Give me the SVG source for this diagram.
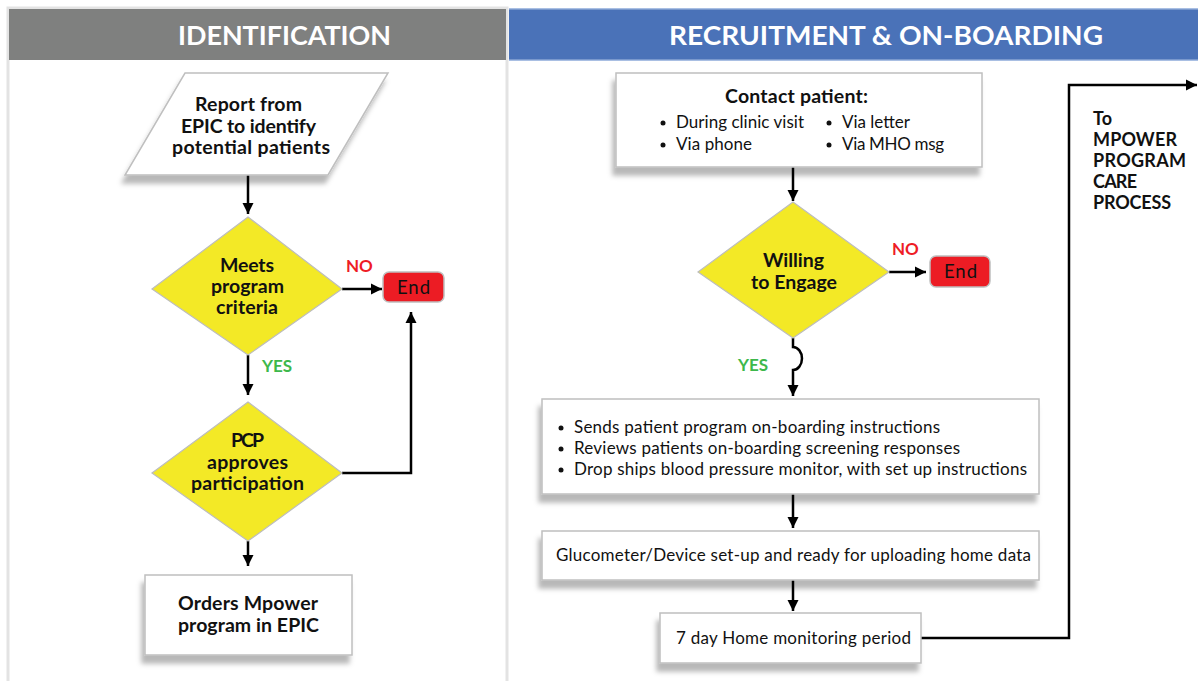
<svg xmlns="http://www.w3.org/2000/svg" width="1198" height="681" viewBox="0 0 1198 681">
<style>
.t{font-family:Lato,"Open Sans","Liberation Sans",sans-serif;fill:#111}
.b{font-weight:bold;font-size:19.5px}
.m{font-weight:bold;font-size:18px}
.r{font-size:17px}
.hd{font-family:Lato,"Open Sans","Liberation Sans",sans-serif;font-size:27px;font-weight:bold;fill:#fff}
.box{fill:#fff;stroke:#BFBFBF;stroke-width:1.5}
.dia{fill:#F3E926;stroke:#BDBDBD;stroke-width:1.2}
.end{fill:#EC1C24;stroke:#BFBFBF;stroke-width:1.5}
.c{fill:none;stroke:#000;stroke-width:2.5}
.no{font-family:Lato,"Open Sans","Liberation Sans",sans-serif;font-size:17px;font-weight:bold;fill:#EE1C25}
.yes{font-family:Lato,"Open Sans","Liberation Sans",sans-serif;font-size:17px;font-weight:bold;fill:#3DB84B}
</style>
<defs>
<marker id="ah" markerUnits="userSpaceOnUse" markerWidth="12" markerHeight="12" refX="11" refY="6" orient="auto" viewBox="0 0 12 12">
<path d="M0,0.5 L11,6 L0,11.5 z" fill="#000"/>
</marker>
<filter id="sh" x="-10%" y="-20%" width="120%" height="150%">
<feDropShadow dx="-3" dy="8" stdDeviation="2.5" flood-color="#000" flood-opacity="0.28"/>
</filter>
</defs>
<rect width="1198" height="681" fill="#fff"/>
<g id="panels">
<rect x="8" y="8" width="499" height="700" fill="none" stroke="#E3E3E3" stroke-width="3"/>
<rect x="9" y="9" width="497" height="51" fill="#7F807F"/>
<rect x="509" y="8" width="689" height="53" fill="#A9BFE3"/>
<rect x="509" y="9.5" width="689" height="50" fill="#4A72B8"/>
<text class="hd" x="178" y="45" textLength="213" lengthAdjust="spacingAndGlyphs">IDENTIFICATION</text>
<text class="hd" x="669" y="45" textLength="434" lengthAdjust="spacingAndGlyphs">RECRUITMENT &amp; ON-BOARDING</text>
</g>
<g id="connectors">
<line class="c" x1="248" y1="175" x2="248" y2="214" marker-end="url(#ah)"/>
<line class="c" x1="342" y1="289" x2="382" y2="289" marker-end="url(#ah)"/>
<line class="c" x1="248" y1="355" x2="248" y2="395" marker-end="url(#ah)"/>
<polyline class="c" points="342,473 411,473 411,312" marker-end="url(#ah)"/>
<line class="c" x1="248" y1="541" x2="248" y2="566" marker-end="url(#ah)"/>
<line class="c" x1="793" y1="167" x2="793" y2="201" marker-end="url(#ah)"/>
<line class="c" x1="889" y1="272" x2="926" y2="272" marker-end="url(#ah)"/>
<path class="c" d="M793,338 L793,347 A9 11.5 0 0 1 793,370 L793,396" marker-end="url(#ah)"/>
<line class="c" x1="793" y1="494" x2="793" y2="528" marker-end="url(#ah)"/>
<line class="c" x1="793" y1="580" x2="793" y2="611" marker-end="url(#ah)"/>
<polyline class="c" points="921,638 1069,638 1069,85 1197,85" marker-end="url(#ah)"/>
<text class="no" x="346" y="272">NO</text>
<text class="yes" x="262" y="372">YES</text>
<text class="no" x="892" y="255">NO</text>
<text class="yes" x="738" y="371">YES</text>
</g>
<g id="report">
<polygon points="185,73 388,73 328,175 125,175" class="box" filter="url(#sh)"/>
<text class="t b" x="195" y="111" textLength="107">Report from</text>
<text class="t b" x="181" y="133" textLength="135">EPIC to identify</text>
<text class="t b" x="172" y="154" textLength="158">potential patients</text>
</g>
<g id="meets">
<polygon points="248,217 342,289 248,355 152,289" class="dia"/>
<text class="t b" x="220" y="272" textLength="54">Meets</text>
<text class="t b" x="211" y="293" textLength="73">program</text>
<text class="t b" x="216" y="314" textLength="62">criteria</text>
</g>
<g id="end1">
<rect x="383" y="272" width="61" height="30" rx="6" class="end"/>
<text class="t" font-size="18.5" x="397" y="294" textLength="33">End</text>
</g>
<g id="pcp">
<polygon points="248,402 342,473 248,541 152,473" class="dia"/>
<text class="t b" x="231" y="447" textLength="33">PCP</text>
<text class="t b" x="207" y="469" textLength="81">approves</text>
<text class="t b" x="191" y="490" textLength="113">participation</text>
</g>
<g id="orders">
<rect x="145" y="575" width="207" height="80" class="box" filter="url(#sh)"/>
<text class="t b" x="178" y="610" textLength="140">Orders Mpower</text>
<text class="t b" x="178" y="632" textLength="141">program in EPIC</text>
</g>
<g id="contact">
<rect x="616" y="73" width="366" height="94" class="box" filter="url(#sh)"/>
<text class="t b" x="725" y="103" textLength="143">Contact patient:</text>
<circle cx="663" cy="123" r="2.5" fill="#111"/><text class="t r" x="676" y="128" textLength="128">During clinic visit</text>
<circle cx="663" cy="145" r="2.5" fill="#111"/><text class="t r" x="676" y="150" textLength="76">Via phone</text>
<circle cx="829" cy="123" r="2.5" fill="#111"/><text class="t r" x="842" y="128" textLength="68">Via letter</text>
<circle cx="829" cy="145" r="2.5" fill="#111"/><text class="t r" x="842" y="150" textLength="102">Via MHO msg</text>
</g>
<g id="willing">
<polygon points="793,202 889,272 793,338 698,272" class="dia"/>
<text class="t b" x="763" y="267" textLength="61">Willing</text>
<text class="t b" x="751" y="289" textLength="86">to Engage</text>
</g>
<g id="end2">
<rect x="930" y="256" width="60" height="31" rx="6" class="end"/>
<text class="t" font-size="18.5" x="944" y="278" textLength="33">End</text>
</g>
<g id="onboard">
<rect x="542" y="399" width="497" height="95" class="box" filter="url(#sh)"/>
<circle cx="561" cy="428" r="2.5" fill="#111"/><text class="t r" x="574" y="433" textLength="366">Sends patient program on-boarding instructions</text>
<circle cx="561" cy="449" r="2.5" fill="#111"/><text class="t r" x="574" y="454" textLength="386">Reviews patients on-boarding screening responses</text>
<circle cx="561" cy="470" r="2.5" fill="#111"/><text class="t r" x="574" y="475" textLength="453">Drop ships blood pressure monitor, with set up instructions</text>
</g>
<g id="gluco">
<rect x="542" y="531" width="497" height="49" class="box" filter="url(#sh)"/>
<text class="t r" x="556" y="561" textLength="475">Glucometer/Device set-up and ready for uploading home data</text>
</g>
<g id="monitor">
<rect x="660" y="613" width="261" height="50" class="box" filter="url(#sh)"/>
<text class="t r" x="676" y="644" textLength="235">7 day Home monitoring period</text>
</g>
<g id="mpower">
<text class="t m" x="1093" y="125">To</text>
<text class="t m" x="1093" y="146" textLength="84">MPOWER</text>
<text class="t m" x="1093" y="167" textLength="93">PROGRAM</text>
<text class="t m" x="1093" y="188" textLength="44">CARE</text>
<text class="t m" x="1093" y="209" textLength="78">PROCESS</text>
</g>
</svg>
